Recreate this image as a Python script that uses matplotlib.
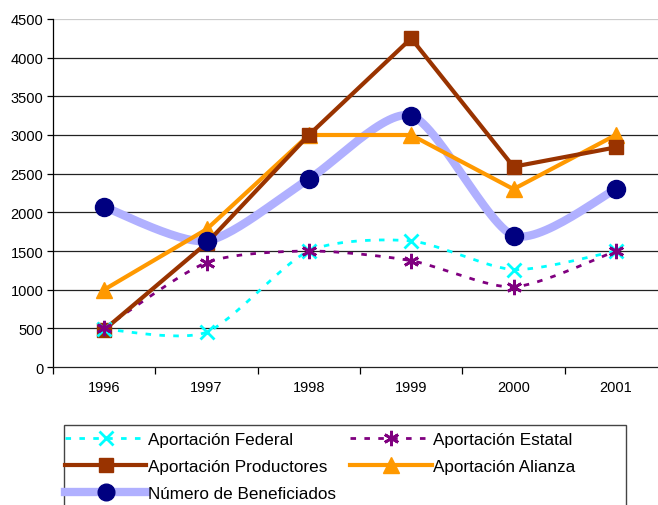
import numpy as np
import matplotlib
matplotlib.use("Agg")
import matplotlib.pyplot as plt
from matplotlib.lines import Line2D
from matplotlib.patches import Rectangle

plt.rcParams['font.family'] = ['Liberation Sans', 'DejaVu Sans']

years = ["1996", "1997", "1998", "1999", "2000", "2001"]
federal = [490, 450, 1500, 1630, 1260, 1500]
estatal = [500, 1350, 1500, 1375, 1035, 1500]
productores = [480, 1600, 3000, 4250, 2590, 2840]
alianza = [1000, 1780, 3000, 3000, 2300, 3000]
beneficiados = [2070, 1630, 2430, 3250, 1700, 2300]
yticks = [0, 500, 1000, 1500, 2000, 2500, 3000, 3500, 4000, 4500]


def smooth(xs, ys, n=30, k=8.0):
    P = np.column_stack([xs, ys]).astype(float)
    P = np.vstack([P[0], P, P[-1]])
    out = []
    for i in range(1, len(P) - 2):
        p0, p1, p2, p3 = P[i - 1], P[i], P[i + 1], P[i + 2]
        c1 = p1 + (p2 - p0) / k
        c2 = p2 - (p3 - p1) / k
        t = np.linspace(0, 1, n)[:, None]
        seg = ((1 - t) ** 3) * p1 + 3 * ((1 - t) ** 2) * t * c1 + 3 * (1 - t) * t ** 2 * c2 + t ** 3 * p2
        out.append(seg if i == 1 else seg[1:])
    s = np.vstack(out)
    return s[:, 0], s[:, 1]


W, H = 658, 506
fig = plt.figure(figsize=(W / 100, H / 100), dpi=100)
ax = fig.add_axes([53 / W, 1 - 368 / H, 614 / W, 348 / H])
x = np.arange(len(years))

for v in yticks[1:]:
    ax.axhline(v, color='#222222' if v < 4500 else '#cccccc', lw=0.9, zorder=0)

BEN_LINE = '#B0B0FF'
# Beneficiados
sx, sy = smooth(x, beneficiados)
ax.plot(sx, sy, color=BEN_LINE, lw=6, solid_capstyle='butt', zorder=2)
ax.plot(x, beneficiados, ls='none', marker='o', ms=13, color='#000080', zorder=6)

# Federal
sx, sy = smooth(x, federal)
ax.plot(sx, sy, color='#00FFFF', lw=2, ls=(0, (2, 3)), zorder=3)
ax.plot(x, federal, ls='none', marker='x', ms=10, mew=2, color='#00FFFF', zorder=6)

# Estatal
sx, sy = smooth(x, estatal)
ax.plot(sx, sy, color='#800080', lw=2, ls=(0, (2, 3)), zorder=3)
ax.plot(x, estatal, ls='none', marker=(6, 2, 0), ms=11, mew=2, color='#800080', zorder=6)

# Productores
ax.plot(x, productores, color='#993300', lw=3, marker='s', ms=10, zorder=5)
# Alianza
ax.plot(x, alianza, color='#FF9900', lw=3, marker='^', ms=11, zorder=4)

ax.set_xlim(-0.5, 5.5)
ax.set_ylim(0, 4500)
ax.set_yticks(yticks)
ax.set_yticklabels([str(v) for v in yticks], fontsize=10.5)
ax.set_xticks(np.arange(-0.5, 6.0, 1.0))
ax.set_xticklabels([])
ax.set_xticks(x, minor=True)
ax.set_xticklabels(years, minor=True, fontsize=10.5)
ax.tick_params(axis='x', which='major', length=5, direction='out', width=0.9)
ax.tick_params(axis='x', which='minor', length=0, pad=9)
ax.tick_params(axis='y', length=4, direction='out', width=0.9, pad=3)
for s in ['top', 'right']:
    ax.spines[s].set_visible(False)
ax.spines['left'].set_linewidth(0.9)
ax.spines['bottom'].set_linewidth(0.9)
ax.spines['bottom'].set_color('#222222')

handles = [
    Line2D([], [], color='#00FFFF', lw=2, ls=(0, (2, 3)), marker='x', ms=10, mew=2),
    Line2D([], [], color='#993300', lw=3, marker='s', ms=10),
    Line2D([], [], color=BEN_LINE, lw=6, marker='o', ms=12, mfc='#000080', mec='#000080'),
    Line2D([], [], color='#800080', lw=2, ls=(0, (2, 3)), marker=(6, 2, 0), ms=11, mew=2),
    Line2D([], [], color='#FF9900', lw=3, marker='^', ms=11),
]
labels = ["Aportación Federal", "Aportación Productores", "Número de Beneficiados",
          "Aportación Estatal", "Aportación Alianza"]
leg = fig.legend(handles, labels, loc='upper left', bbox_to_anchor=(65 / W, 1 - 433 / H),
                 ncol=2, fontsize=12.3, frameon=False,
                 handlelength=4.75, handletextpad=0.1, columnspacing=0.85, labelspacing=0.7,
                 borderpad=0.0, borderaxespad=0)
# legend frame (open at the bottom, beyond the figure edge)
fig.patches.append(Rectangle((64 / W, -0.05), (626 - 64) / W, 1 - 426 / H + 0.05,
                             transform=fig.transFigure, fill=False, edgecolor='#444444',
                             lw=1.0, zorder=0))

fig.savefig("out.png", dpi=100)
